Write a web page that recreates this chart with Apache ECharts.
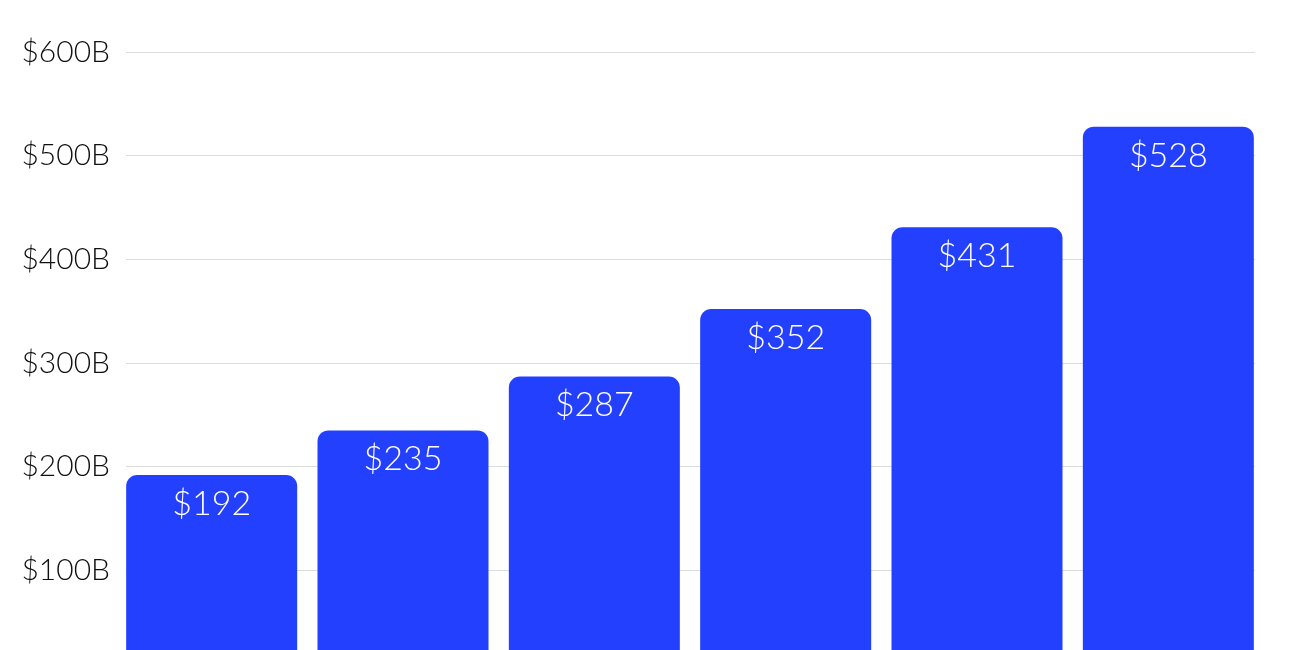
<!DOCTYPE html>
<html>
<head>
<meta charset="utf-8">
<script src="https://cdn.jsdelivr.net/npm/echarts@6/dist/echarts.min.js"></script>
<style>
html,body{margin:0;padding:0;background:#fff;}
#chart{width:1300px;height:650px;}
</style>
</head>
<body>
<div id="chart"></div>
<script>
const categories = ['Y1', 'Y2', 'Y3', 'Y4', 'Y5', 'Y6'];
const values = [192, 235, 287, 352, 431, 528];
const yTicks = [0, 100, 200, 300, 400, 500, 600];

const FONT = 'Lato';
const chart = echarts.init(document.getElementById('chart'));
chart.setOption({
  animation: false,
  backgroundColor: '#ffffff',
  grid: [
    { left: 126, right: 45, top: 52, height: 622, outerBoundsMode: 'none', containLabel: false },
    { left: 116, right: 36, top: 52, height: 622, outerBoundsMode: 'none', containLabel: false }
  ],
  xAxis: [
    { type: 'category', gridIndex: 0, data: categories, show: false },
    { type: 'category', gridIndex: 1, data: categories, show: false }
  ],
  yAxis: [
    {
      type: 'value', gridIndex: 0, min: yTicks[0], max: yTicks[yTicks.length - 1], interval: 100,
      axisLine: { show: false }, axisTick: { show: false },
      axisLabel: {
        formatter: v => '$' + v + 'B', color: '#111', fontFamily: FONT, fontWeight: 300,
        fontSize: 30, margin: 16, showMinLabel: false
      },
      splitLine: { lineStyle: { color: '#dcdcdc', width: 1 } }
    },
    {
      type: 'value', gridIndex: 1, min: yTicks[0], max: yTicks[yTicks.length - 1], interval: 100,
      show: false, splitLine: { show: false }
    }
  ],
  series: [{
    type: 'bar',
    xAxisIndex: 1, yAxisIndex: 1,
    data: values,
    barWidth: 171,
    itemStyle: { color: '#2440ff', borderRadius: [11, 11, 0, 0] },
    label: {
      show: true, position: 'insideTop', distance: 12,
      formatter: p => '$' + p.value,
      color: '#ffffff', fontFamily: FONT, fontWeight: 300, fontSize: 34
    }
  }]
});
</script>
</body>
</html>
